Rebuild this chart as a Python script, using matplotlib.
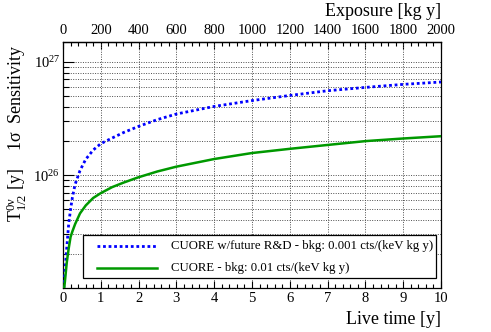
import matplotlib
matplotlib.use("Agg")
import matplotlib.pyplot as plt
from matplotlib.patches import Rectangle
from matplotlib.lines import Line2D
from matplotlib.ticker import LogLocator, MultipleLocator, NullFormatter, LogFormatterSciNotation

plt.rcParams['font.family'] = ['Liberation Serif', 'DejaVu Serif']
plt.rcParams['mathtext.fontset'] = 'custom'
plt.rcParams['mathtext.rm'] = 'Liberation Serif'
plt.rcParams['mathtext.it'] = 'Liberation Serif:italic'
plt.rcParams['mathtext.bf'] = 'Liberation Serif:bold'

# Live time [y]
live_time = [0.0, 0.05, 0.1, 0.15, 0.2, 0.25, 0.32, 0.45, 0.6, 0.8, 1.0, 1.3, 1.6,
             2.0, 2.5, 3.0, 4.0, 5.0, 6.0, 7.0, 8.0, 9.0, 10.0]
# CUORE w/future R&D, bkg 0.001
sens_rd = [0.8e25, 1.4e25, 2.3e25, 3.7e25, 5.0e25, 6.4e25, 8.3e25, 1.1e26, 1.38e26,
           1.67e26, 1.9e26, 2.13e26, 2.38e26, 2.7e26, 3.1e26, 3.47e26, 4.05e26,
           4.56e26, 5.06e26, 5.57e26, 5.96e26, 6.34e26, 6.65e26]
# CUORE bkg 0.01
sens_cuore = [0.8e25, 1.15e25, 1.7e25, 2.25e25, 2.85e25, 3.2e25, 3.7e25, 4.6e25, 5.4e25,
              6.3e25, 6.95e25, 7.85e25, 8.6e25, 9.6e25, 1.08e26, 1.19e26, 1.39e26,
              1.57e26, 1.71e26, 1.85e26, 2.0e26, 2.11e26, 2.21e26]

labels = ["CUORE w/future R&D - bkg: 0.001 cts/(keV kg y)",
          "CUORE - bkg: 0.01 cts/(keV kg y)"]
mass_rate = 200.0  # kg y per live year (exposure axis)

W, H = 491, 332
AX_L, AX_R, AX_T, AX_B = 63, 441, 42, 288
AW, AH = AX_R - AX_L, AX_B - AX_T
fig = plt.figure(figsize=(W / 100, H / 100), dpi=100)
ax = fig.add_axes([AX_L / W, 1 - AX_B / H, AW / W, AH / H])

blue_style = dict(color='#0000ff', lw=2.0, linestyle=(0, (1, 1)), dash_capstyle='butt')
green_style = dict(color='#009900', lw=1.8)
ax.plot(live_time, sens_rd, zorder=3, **blue_style)
ax.plot(live_time, sens_cuore, zorder=3, **green_style)

ax.set_yscale('log')
ax.set_xlim(0, 10)
ax.set_ylim(1.01e25, 1.5e27)

ax.xaxis.set_major_locator(MultipleLocator(1))
ax.xaxis.set_minor_locator(MultipleLocator(0.2))
ax.yaxis.set_major_locator(LogLocator(base=10, numticks=10))
ax.yaxis.set_minor_locator(LogLocator(base=10, subs=range(2, 10), numticks=20))
ax.yaxis.set_minor_formatter(NullFormatter())
ax.yaxis.set_major_formatter(LogFormatterSciNotation())

gridkw = dict(color='0.3', linestyle=(0, (1, 1.5)), linewidth=0.7)
ax.grid(True, which='major', axis='x', **gridkw)
ax.grid(True, which='both', axis='y', **gridkw)
ax.set_axisbelow(True)

ax.tick_params(axis='x', which='major', direction='in', length=5.3, width=0.8,
               labelsize=10.5, pad=3, top=False)
ax.tick_params(axis='x', which='minor', direction='in', length=2.7, width=0.8, top=False)
ax.tick_params(axis='y', which='major', direction='in', length=8.2, width=0.8,
               labelsize=10.5, pad=2)
ax.tick_params(axis='y', which='minor', direction='in', length=4.1, width=0.8)
for s in ax.spines.values():
    s.set_linewidth(0.9)

sec = ax.secondary_xaxis('top', functions=(lambda t: t * mass_rate, lambda e: e / mass_rate))
sec.xaxis.set_major_locator(MultipleLocator(200))
sec.xaxis.set_minor_locator(MultipleLocator(40))
sec.tick_params(axis='x', which='major', direction='in', length=5.3, width=0.8,
                labelsize=10.5, pad=3.5)
sec.tick_params(axis='x', which='minor', direction='in', length=2.7, width=0.8)
sec.spines['top'].set_linewidth(0.9)

fig.text(AX_R / W, 1 - 320 / H, "Live time [y]", ha='right', va='center', fontsize=13)
fig.text(AX_R / W, 1 - 11 / H, "Exposure [kg y]", ha='right', va='center', fontsize=13)
fig.text(17 / W, 1 - 44 / H,
         r"$\mathrm{T}^{\mathrm{0\nu}}_{1/2}$ [y]    1σ  Sensitivity",
         rotation=90, ha='center', va='top', fontsize=13)

# legend box (manual, to match the reference layout)
tr = ax.transAxes
ax.add_patch(Rectangle(((83 - AX_L) / AW, (AX_B - 278) / AH), (436 - 83) / AW, (278 - 235) / AH,
                       transform=tr, facecolor='white', edgecolor='black', lw=0.9, zorder=4))
rows = [246, 267.7]
styles = [blue_style, green_style]
for lab, yrow, st in zip(labels, rows, styles):
    yy = (AX_B - yrow) / AH
    ax.add_line(Line2D([(96.7 - AX_L) / AW, (156.7 - AX_L) / AW], [yy, yy], transform=tr,
                       zorder=5, **st))
    ax.text((170.7 - AX_L) / AW, yy, lab, transform=tr, ha='left', va='center',
            fontsize=9.2, zorder=5)

fig.savefig("out.png", dpi=100)
